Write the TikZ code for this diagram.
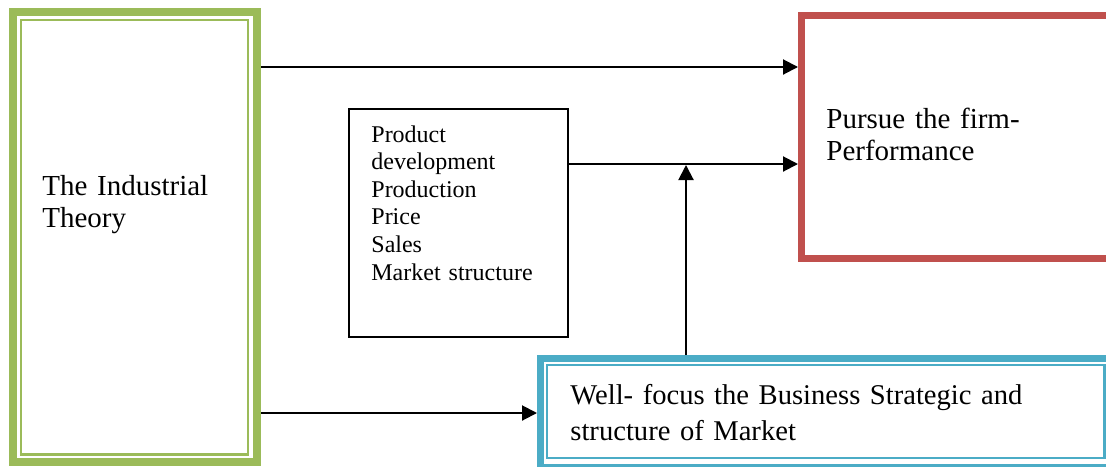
\documentclass[tikz,border=0pt]{standalone}
\usepackage{fontspec}
\setmainfont{Liberation Serif}
\usetikzlibrary{arrows.meta}

\definecolor{boxgreen}{HTML}{9BBB59}
\definecolor{boxred}{HTML}{C0504D}
\definecolor{boxblue}{HTML}{4BACC6}

\begin{document}
\begin{tikzpicture}[x=0.5pt, y=-0.5pt,
        frame/.style={draw, line width=3.5pt, inner sep=0pt},
        inframe/.style={line width=1.2pt},
        wire/.style={line width=1pt, -{Triangle[length=7.5pt, width=7.5pt]}},
        bigtxt/.style={anchor=base west, inner sep=0pt, align=left, text width=260pt,
            font=\fontsize{14.5}{16}\selectfont},
        smalltxt/.style={anchor=base west, inner sep=0pt, align=left, text width=100pt,
            font=\fontsize{12}{13.8}\selectfont}]
    \useasboundingbox (0,0) rectangle (1106,466);
    \clip (0,0) rectangle (1106,466);

    % Draw the boxes
    \node[frame, boxgreen, line width=4pt, minimum width=122pt, minimum height=224.75pt] (theory) at (135,236.75) {};
    \draw[boxgreen, inframe] ([shift={(12,12)}]theory.north west) rectangle ([shift={(-13,-11)}]theory.south east);

    \node[frame, boxred, minimum width=159.25pt, minimum height=121.5pt] (perf) at (960.75,137) {};

    \node[frame, boxblue, minimum width=286.75pt, minimum height=54.5pt] (strategy) at (827.25,413) {};
    \draw[boxblue, inframe] ([shift={(10,10)}]strategy.north west) rectangle ([shift={(-13,-13)}]strategy.south east);

    \node[draw, line width=0.75pt, inner sep=0pt, minimum width=109.5pt, minimum height=114pt] (factors) at (458.5,223) {};

    % Draw the texts inside the boxes
    \node[bigtxt] (theoryText) at (42,195) {The Industrial\\Theory};
    \node[bigtxt] (perfText) at (826,128) {Pursue the firm-\\Performance};
    \node[smalltxt] (factorsText) at (371,142) {Product\\development\\Production\\Price\\Sales\\Market structure};
    \node[bigtxt, font=\fontsize{14.3}{18}\selectfont] (strategyText) at (570,404) {Well- focus the Business Strategic and\\structure of Market};

    % Draw the arrows
    \coordinate (rowA) at (0,67);
    \coordinate (rowB) at (0,164);
    \coordinate (join) at (686,165);
    \draw[wire] (theory.east |- rowA) -- (perf.west |- rowA);
    \draw[wire] (factors.east |- rowB) -- (perf.west |- rowB);
    \draw[wire] (strategy.north -| join) -- (join);
    \draw[wire] (theory.east |- strategy.west) -- (strategy.west);
\end{tikzpicture}
\end{document}
